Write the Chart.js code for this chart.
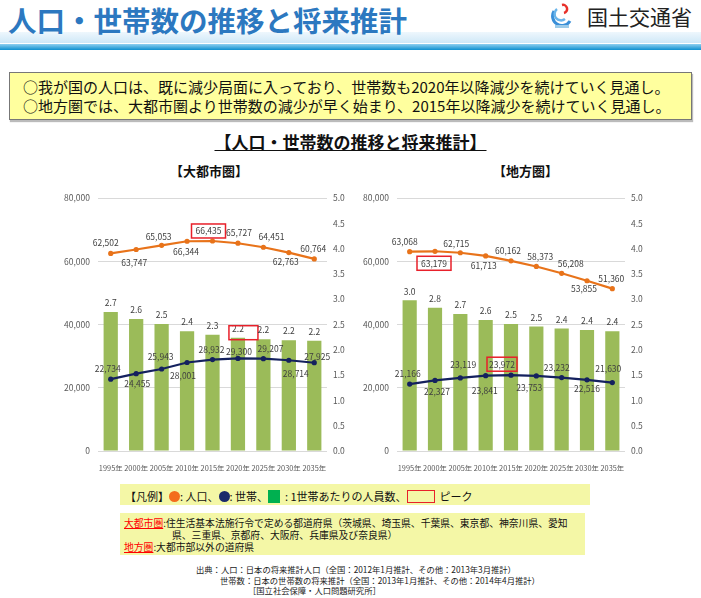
<!DOCTYPE html>
<html lang="ja">
<head>
<meta charset="utf-8">
<script src="https://cdn.jsdelivr.net/npm/chart.js@4.4.0/dist/chart.umd.min.js"></script>
<style>
  body { margin: 0; width: 701px; height: 598px; background: #fff; position: relative; overflow: hidden;
         font-family: "Noto Sans CJK JP", "Noto Sans", sans-serif; color: #111; }
  .abs { position: absolute; white-space: nowrap; }
  #title { left: 8px; top: 0px; font-size: 28.5px; font-weight: bold; color: #2c78c0; line-height: 40px; }
  #band { left: 0; top: 32px; width: 701px; height: 11px; background: linear-gradient(#eef7fd, #cfe8f7); }
  #strip { left: 0; top: 44px; width: 701px; height: 6px; background: linear-gradient(#8fd0f0, #0f90d0); }
  #logoText { left: 587px; top: 2px; font-size: 21px; line-height: 28px; color: #222; }
  #summary { left: 9px; top: 72px; width: 681px; height: 46px; border: 1px solid #777; background: #ffff9e;
             box-shadow: 1px 2px 1px #bbb; }
  #summary div { position: absolute; left: 13px; font-size: 15px; line-height: 18px; white-space: nowrap; }
  #mainTitle { left: 0; width: 701px; text-align: center; top: 131px; font-size: 17px; font-weight: bold;
               text-decoration: underline; line-height: 22px; }
  .sub { top: 162px; font-size: 13px; font-weight: bold; line-height: 18px; }
  #legend { left: 120px; top: 484px; width: 470px; height: 21px; background: #f4f7a6; font-size: 11px; line-height: 21px; }
  #legend span { display: inline-block; vertical-align: middle; }
  .dot { width: 11px; height: 11px; border-radius: 50%; }
  #notes { left: 120px; top: 513px; width: 465px; height: 42px; background: #f4f7a6; font-size: 9.8px; line-height: 12px; }
  #notes div { position: absolute; white-space: nowrap; }
  .red { color: #ff0000; text-decoration: underline; }
  #source { left: 196px; top: 564px; font-size: 8.3px; line-height: 10.5px; color: #222; }
  canvas { position: absolute; }
</style>
</head>
<body>
<div class="abs" id="band"></div>
<div class="abs" id="strip"></div>
<div class="abs" id="title">人口・世帯数の推移と将来推計</div>
<svg class="abs" style="left:551px;top:3px" width="22" height="26" viewBox="0 0 22 26">
  <path d="M3 8 A9 9 0 0 0 19 18" fill="none" stroke="#3a8fd8" stroke-width="3"/>
  <path d="M6 6 A6 6 0 0 0 14 16" fill="none" stroke="#69b4ea" stroke-width="2.5"/>
  <path d="M11 2 A4 4 0 0 1 13 10" fill="none" stroke="#e8302a" stroke-width="2.5"/>
  <rect x="4" y="22" width="14" height="3" fill="#9ccbe9"/>
</svg>
<div class="abs" id="logoText">国土交通省</div>

<div class="abs" id="summary">
  <div style="top:5px">○我が国の人口は、既に減少局面に入っており、世帯数も2020年以降減少を続けていく見通し。</div>
  <div style="top:24px">○地方圏では、大都市圏より世帯数の減少が早く始まり、2015年以降減少を続けていく見通し。</div>
</div>

<div class="abs" id="mainTitle">【人口・世帯数の推移と将来推計】</div>
<div class="abs sub" style="left:170px">【大都市圏】</div>
<div class="abs sub" style="left:493px">【地方圏】</div>

<canvas id="metroChart" width="320" height="286" style="left:40px;top:185px"></canvas>
<canvas id="localChart" width="320" height="286" style="left:340px;top:185px"></canvas>

<div class="abs" id="legend">
  <span style="margin-left:5px">【凡例】</span><span class="dot" style="background:#f36c1c"></span><span>:&nbsp;人口、</span><span class="dot" style="background:#1b2a6b"></span><span>:&nbsp;世帯、</span><span style="width:12px;height:13px;background:#00b050"></span><span>&nbsp;&nbsp;:&nbsp;1世帯あたりの人員数、</span><span style="width:26px;height:11px;border:1.5px solid #e8202a"></span><span>&nbsp;&nbsp;ピーク</span>
</div>

<div class="abs" id="notes">
  <div style="left:4px;top:4px"><span class="red">大都市圏</span>:住生活基本法施行令で定める都道府県（茨城県、埼玉県、千葉県、東京都、神奈川県、愛知</div>
  <div style="left:52px;top:16px">県、三重県、京都府、大阪府、兵庫県及び奈良県）</div>
  <div style="left:4px;top:28px"><span class="red">地方圏</span>:大都市部以外の道府県</div>
</div>

<div class="abs" id="source">
  <div>出典：人口：日本の将来推計人口（全国：2012年1月推計、その他：2013年3月推計）</div>
  <div style="margin-left:24px">世帯数：日本の世帯数の将来推計（全国：2013年1月推計、その他：2014年4月推計）</div>
  <div style="margin-left:52px">［国立社会保障・人口問題研究所］</div>
</div>

<script>
// data
const years = ['1995年', '2000年', '2005年', '2010年', '2015年', '2020年', '2025年', '2030年', '2035年'];

const metroPop = [62502, 63747, 65053, 66344, 66435, 65727, 64451, 62763, 60764];
const metroHouseholds = [22734, 24455, 25943, 28001, 28932, 29300, 29207, 28714, 27925];
const metroPerHousehold = [2.75, 2.61, 2.51, 2.37, 2.30, 2.24, 2.21, 2.19, 2.18];
const metroPerHouseholdLabels = ['2.7', '2.6', '2.5', '2.4', '2.3', '2.2', '2.2', '2.2', '2.2'];

const localPop = [63068, 63179, 62715, 61713, 60162, 58373, 56208, 53855, 51360];
const localHouseholds = [21166, 22327, 23119, 23841, 23972, 23753, 23232, 22516, 21630];
const localPerHousehold = [2.98, 2.83, 2.71, 2.59, 2.51, 2.46, 2.42, 2.39, 2.37];
const localPerHouseholdLabels = ['3.0', '2.8', '2.7', '2.6', '2.5', '2.5', '2.4', '2.4', '2.4'];

const leftTicks = { min: 0, max: 80000, step: 20000 };
const rightTicks = { min: 0, max: 5, step: 0.5 };

Chart.defaults.font.family = '"Noto Sans CJK JP", "Noto Sans", sans-serif';

// draws the value labels and the red "peak" boxes
const valueLabels = {
  id: 'valueLabels',
  afterDatasetsDraw(chart, args, opts) {
    const ctx = chart.ctx;
    ctx.save();
    ctx.font = '8.5px "Noto Sans CJK JP", sans-serif';
    ctx.textAlign = 'center';
    ctx.textBaseline = 'middle';
    opts.sets.forEach(s => {
      const meta = chart.getDatasetMeta(s.dataset);
      const values = chart.data.datasets[s.dataset].data;
      meta.data.forEach((el, i) => {
        const text = s.texts ? s.texts[i] : values[i].toLocaleString('en-US');
        const off = s.offsets ? s.offsets[i] : [0, s.dy];
        const x = el.x + off[0];
        const y = el.y + off[1];
        ctx.fillStyle = '#404040';
        ctx.fillText(text, x, y);
        if (s.peak === i) {
          ctx.strokeStyle = '#e8202a';
          ctx.lineWidth = 1.5;
          ctx.strokeRect(x + s.box[0], y + s.box[1], s.box[2], s.box[3]);
        }
      });
    });
    ctx.restore();
  }
};

function makeChart(id, pop, households, perHousehold, perLabels, leftWidth, rightWidth, labelSets) {
  return new Chart(document.getElementById(id), {
    type: 'bar',
    data: {
      labels: years,
      datasets: [
        {
          type: 'line', label: '人口', data: pop, yAxisID: 'y',
          borderColor: '#e8731a', backgroundColor: '#e8731a', borderWidth: 2.2,
          pointRadius: 2.6, pointBorderWidth: 0, order: 0
        },
        {
          type: 'line', label: '世帯', data: households, yAxisID: 'y',
          borderColor: '#14215e', backgroundColor: '#14215e', borderWidth: 2.2,
          pointRadius: 2.6, pointBorderWidth: 0, order: 1
        },
        {
          type: 'bar', label: '1世帯あたりの人員数', data: perHousehold, yAxisID: 'y1',
          backgroundColor: '#9bbb59', barPercentage: 0.56, categoryPercentage: 1, order: 2
        }
      ]
    },
    options: {
      responsive: false,
      animation: false,
      layout: { padding: { top: 13, left: 0, right: 0, bottom: 0 } },
      plugins: {
        legend: { display: false },
        tooltip: { enabled: false },
        valueLabels: {
          sets: [
            { dataset: 2, texts: perLabels, dy: -9, peak: labelSets.barPeak, box: labelSets.barBox },
            { dataset: 0, offsets: labelSets.popOffsets, peak: labelSets.popPeak, box: [-17, -7, 34, 14] },
            { dataset: 1, offsets: labelSets.hhOffsets, peak: labelSets.hhPeak, box: [-15, -8, 30, 14] }
          ]
        }
      },
      scales: {
        x: {
          grid: { display: false },
          border: { display: false },
          ticks: { color: '#595959', font: { size: 7.4 }, padding: 5, maxRotation: 0, autoSkip: false },
          afterFit: s => { s.height = 20; }
        },
        y: {
          position: 'left',
          min: leftTicks.min, max: leftTicks.max,
          ticks: { stepSize: leftTicks.step, color: '#595959', font: { size: 8.5 }, padding: 8,
                   callback: v => v.toLocaleString('en-US') },
          grid: { color: '#d9d9d9', drawTicks: false },
          border: { display: false },
          afterFit: s => { s.width = leftWidth; }
        },
        y1: {
          position: 'right',
          min: rightTicks.min, max: rightTicks.max,
          ticks: { stepSize: rightTicks.step, color: '#595959', font: { size: 8.5 }, padding: 6,
                   callback: v => v.toFixed(1) },
          grid: { drawOnChartArea: false, drawTicks: false },
          border: { display: false },
          afterFit: s => { s.width = rightWidth; }
        }
      }
    },
    plugins: [valueLabels]
  });
}

makeChart('metroChart', metroPop, metroHouseholds, metroPerHousehold, metroPerHouseholdLabels, 58, 33, {
  popOffsets: [[-5, -11], [-2, 13], [-3, -9], [-1, 10], [-4, -10], [1, -10], [8, -10], [-3, 9], [-1, -10]],
  hhOffsets: [[-3, -10], [1, 10], [-1, -12], [-4, 13], [-1, -10], [1, -7], [7, -10], [7, 14], [3, -6]],
  popPeak: 4, hhPeak: -1, barPeak: 5, barBox: [-9, -3, 29, 14]
});

makeChart('localChart', localPop, localHouseholds, localPerHousehold, localPerHouseholdLabels, 57, 35, {
  popOffsets: [[-5, -10], [-1, 12], [-4, -9], [-2, 10], [-3, -10], [4, -10], [9, -10], [-3, 8], [-1, -10]],
  hhOffsets: [[-2, -10], [2, 11], [3, -13], [-1, 15], [-9, -10], [-7, 12], [-5, -10], [0, 9], [-4, -14]],
  popPeak: 1, hhPeak: 4, barPeak: -1, barBox: [0, 0, 0, 0]
});
</script>
</body>
</html>
